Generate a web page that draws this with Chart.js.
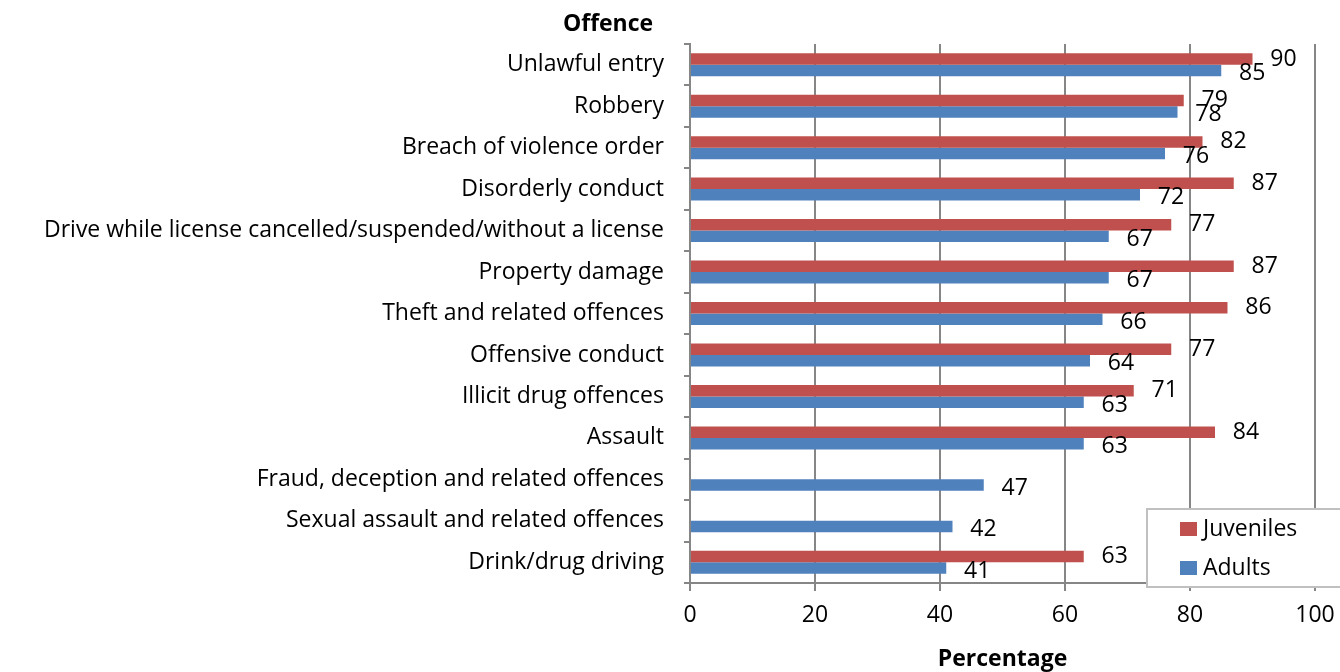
<!DOCTYPE html>
<html>
<head>
<meta charset="utf-8">
<script src="https://cdn.jsdelivr.net/npm/chart.js@4/dist/chart.umd.min.js"></script>
<style>
  html, body { margin: 0; padding: 0; background: #fff; }
  #wrap { width: 1340px; height: 672px; }
</style>
</head>
<body>
<div id="wrap"><canvas id="myChart" width="1340" height="672"></canvas></div>
<script>
// offences, top to bottom as in the chart
var offences = [
  'Unlawful entry',
  'Robbery',
  'Breach of violence order',
  'Disorderly conduct',
  'Drive while license cancelled/suspended/without a license',
  'Property damage',
  'Theft and related offences',
  'Offensive conduct',
  'Illicit drug offences',
  'Assault',
  'Fraud, deception and related offences',
  'Sexual assault and related offences',
  'Drink/drug driving'
];
var juveniles = [90, 79, 82, 87, 77, 87, 86, 77, 71, 84, null, null, 63];
var adults    = [85, 78, 76, 72, 67, 67, 66, 64, 63, 63, 47, 42, 41];
var xTicks = [0, 20, 40, 60, 80, 100];

var red = '#C0504D';
var blue = '#4F81BD';
var grey = '#868686';
var fontName = "'Open Sans', 'DejaVu Sans', sans-serif";
var fontSize = 23;

// value labels to the right of each bar
var barLabels = {
  id: 'barLabels',
  afterDatasetsDraw: function(chart) {
    var ctx = chart.ctx;
    ctx.save();
    ctx.font = fontSize + 'px ' + fontName;
    ctx.fillStyle = '#000';
    ctx.textAlign = 'center';
    ctx.textBaseline = 'middle';
    chart.data.datasets.forEach(function(ds, i) {
      var meta = chart.getDatasetMeta(i);
      meta.data.forEach(function(el, j) {
        var v = ds.data[j];
        if (v === null) return;
        ctx.fillText(String(v), el.x + 31, el.y + (i == 1 ? 3 : 0));
      });
    });
    ctx.restore();
  }
};

// "Offence" heading and the boxed legend inside the plot
var extras = {
  id: 'extras',
  afterDraw: function(chart) {
    var ctx = chart.ctx;
    var area = chart.chartArea;
    ctx.save();
    ctx.font = 'bold ' + fontSize + 'px ' + fontName;
    ctx.fillStyle = '#000';
    ctx.textAlign = 'center';
    ctx.textBaseline = 'middle';
    ctx.fillText('Offence', area.left - 82, area.top - 20);

    var bx = 1147, by = 509, bw = 200, bh = 78;
    ctx.fillStyle = '#fff';
    ctx.fillRect(bx, by, bw, bh);
    ctx.strokeStyle = '#C0C0C0';
    ctx.lineWidth = 2;
    ctx.strokeRect(bx, by, bw, bh);

    ctx.font = fontSize + 'px ' + fontName;
    ctx.textAlign = 'left';
    chart.data.datasets.forEach(function(ds, i) {
      var y = by + 20 + i * 39;
      ctx.fillStyle = ds.backgroundColor;
      ctx.fillRect(bx + 33, y - 7, 17, 14);
      ctx.fillStyle = '#000';
      ctx.fillText(ds.label, bx + 56, y);
    });
    ctx.restore();
  }
};

var ctx = document.getElementById('myChart').getContext('2d');
var myChart = new Chart(ctx, {
  type: 'bar',
  data: {
    labels: offences,
    datasets: [{
      label: 'Juveniles',
      data: juveniles,
      backgroundColor: red
    }, {
      label: 'Adults',
      data: adults,
      backgroundColor: blue
    }]
  },
  options: {
    indexAxis: 'y',
    responsive: false,
    animation: false,
    layout: { padding: { top: 44, right: 25, left: 0, bottom: 0 } },
    datasets: { bar: { categoryPercentage: 0.555, barPercentage: 1 } },
    plugins: {
      legend: { display: false },
      tooltip: { enabled: false }
    },
    scales: {
      x: {
        min: 0,
        max: 100,
        afterBuildTicks: function(s) { s.ticks = xTicks.map(function(v) { return { value: v }; }); },
        afterFit: function(s) { s.height = 89; s.paddingRight = 0; s.paddingLeft = 0; },
        grid: { color: grey, lineWidth: 2, tickLength: 8 },
        border: { color: grey, width: 2 },
        ticks: { color: '#000', padding: 11, maxRotation: 0, font: { family: fontName, size: fontSize } },
        title: {
          display: true,
          text: 'Percentage',
          color: '#000',
          padding: { top: 0, bottom: -1 },
          font: { family: fontName, size: fontSize, weight: 'bold' }
        }
      },
      y: {
        afterFit: function(s) { s.width = 690; },
        grid: { drawOnChartArea: false, color: grey, lineWidth: 2, tickLength: 6 },
        border: { color: grey, width: 2 },
        ticks: { color: '#000', padding: 20, autoSkip: false, font: { family: fontName, size: fontSize } }
      }
    }
  },
  plugins: [barLabels, extras]
});
</script>
</body>
</html>
